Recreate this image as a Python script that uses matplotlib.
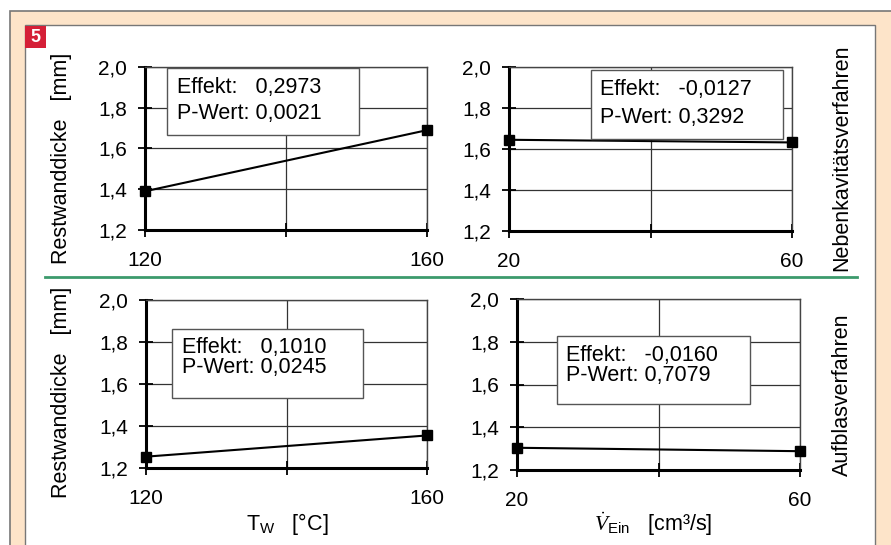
import matplotlib.pyplot as plt
from matplotlib.patches import Rectangle
from matplotlib.lines import Line2D

plt.rcParams['font.family'] = ['Liberation Sans', 'DejaVu Sans']
plt.rcParams['mathtext.fontset'] = 'custom'
plt.rcParams['mathtext.rm'] = 'Liberation Sans'
plt.rcParams['mathtext.it'] = 'Liberation Serif:italic'

# Daten
tw = [120, 160]
v_ein = [20, 60]
neben_tw = [1.39, 1.69]
neben_v = [1.645, 1.632]
aufblas_tw = [1.254, 1.355]
aufblas_v = [1.304, 1.288]

y_ticks = [1.2, 1.4, 1.6, 1.8, 2.0]
tw_ticks = [120, 140, 160]
v_ticks = [20, 40, 60]

texte = {
    'nt': ["Effekt:   0,2973", "P-Wert: 0,0021"],
    'nv': ["Effekt:   -0,0127", "P-Wert: 0,3292"],
    'at': ["Effekt:   0,1010", "P-Wert: 0,0245"],
    'av': ["Effekt:   -0,0160", "P-Wert: 0,7079"],
}

W, H = 891, 545
fig = plt.figure(figsize=(W / 100, H / 100), dpi=100)
fig.patch.set_facecolor('white')


def fr(x0, y0, x1, y1):
    # Pixel (oben-links) -> Figure-Koordinaten
    return (x0 / W, 1 - y1 / H, (x1 - x0) / W, (y1 - y0) / H)


# Hintergrund (Rahmen)
l, b, w, h = fr(10, 11, 900, 560)
fig.add_artist(Rectangle((l, b), w, h, transform=fig.transFigure,
                         fc='#fde4c9', ec='#777777', lw=1.2, zorder=0))
l, b, w, h = fr(25, 25, 875, 560)
fig.add_artist(Rectangle((l, b), w, h, transform=fig.transFigure,
                         fc='white', ec='#777777', lw=1.0, zorder=0))
l, b, w, h = fr(25, 26, 46, 48)
fig.add_artist(Rectangle((l, b), w, h, transform=fig.transFigure,
                         fc='#d51f37', ec='none', zorder=1))
fig.text(35.5 / W, 1 - 37 / H, '5', color='white', fontsize=13, fontweight='bold',
         ha='center', va='center')

# gruene Trennlinie
fig.add_artist(Line2D([45 / W, 857 / W], [1 - 277 / H, 1 - 277 / H],
                      transform=fig.transFigure, color='#3c9a6c', lw=2))


def panel(rect, x, y, xt, zeilen, box, tx, ty):
    ax = fig.add_axes(fr(*rect))
    ax.set_xlim(xt[0], xt[-1])
    ax.set_ylim(1.2, 2.0)
    ax.set_yticks(y_ticks)
    ax.set_yticklabels([f"{v:.1f}".replace('.', ',') for v in y_ticks])
    ax.set_xticks(xt)
    ax.set_xticklabels([str(xt[0]), '', str(xt[-1])])
    ax.grid(True, color='#333333', lw=0.9)
    ax.set_axisbelow(True)
    for s in ['left', 'bottom']:
        ax.spines[s].set_linewidth(2.2)
        ax.spines[s].set_color('black')
    for s in ['top', 'right']:
        ax.spines[s].set_linewidth(1.0)
        ax.spines[s].set_color('#444444')
    ax.tick_params(direction='inout', length=10, width=1.3, labelsize=15, pad=6)
    ax.tick_params(axis='x', pad=10)
    ax.tick_params(axis='y', pad=8)
    ax.plot(x, y, color='black', lw=1.5, marker='s', markersize=7,
            clip_on=False, zorder=5)
    # Textbox
    l, b, w, h = fr(*box)
    fig.add_artist(Rectangle((l, b), w, h, transform=fig.transFigure,
                             fc='white', ec='#555555', lw=1.0, zorder=3))
    for z, yy in zip(zeilen, ty):
        fig.text(tx / W, 1 - yy / H, z, fontsize=15.5, ha='left', va='center',
                 zorder=4)
    return ax


panel((145, 67, 427, 230), tw, neben_tw, tw_ticks, texte['nt'],
      (167, 68, 359, 135), 177, (87, 113))
panel((509, 67, 792, 231), v_ein, neben_v, v_ticks, texte['nv'],
      (591, 70, 783, 139), 600, (90, 117))
panel((146, 300, 427, 468), tw, aufblas_tw, tw_ticks, texte['at'],
      (172, 329, 363, 398), 182, (348, 368))
panel((517, 299, 800, 470), v_ein, aufblas_v, v_ticks, texte['av'],
      (557, 336, 750, 404), 566, (355, 375))

# Achsenbeschriftungen
for yc in [158, 392]:
    fig.text(62 / W, 1 - yc / H, 'Restwanddicke   [mm]', rotation=90,
             fontsize=15.5, ha='center', va='center')
fig.text(842 / W, 1 - 158 / H, 'Nebenkavitätsverfahren', rotation=90,
         fontsize=15.5, ha='center', va='center')
fig.text(842 / W, 1 - 395 / H, 'Aufblasverfahren', rotation=90,
         fontsize=15.5, ha='center', va='center')
fig.text(287 / W, 1 - 524 / H, r'T$_\mathrm{W}$   [°C]', fontsize=15.5,
         ha='center', va='center')
fig.text(653 / W, 1 - 524 / H, r'$\dot{V}_{\mathrm{Ein}}$   [cm³/s]', fontsize=15.5,
         ha='center', va='center')

fig.savefig('out.png', dpi=100)
